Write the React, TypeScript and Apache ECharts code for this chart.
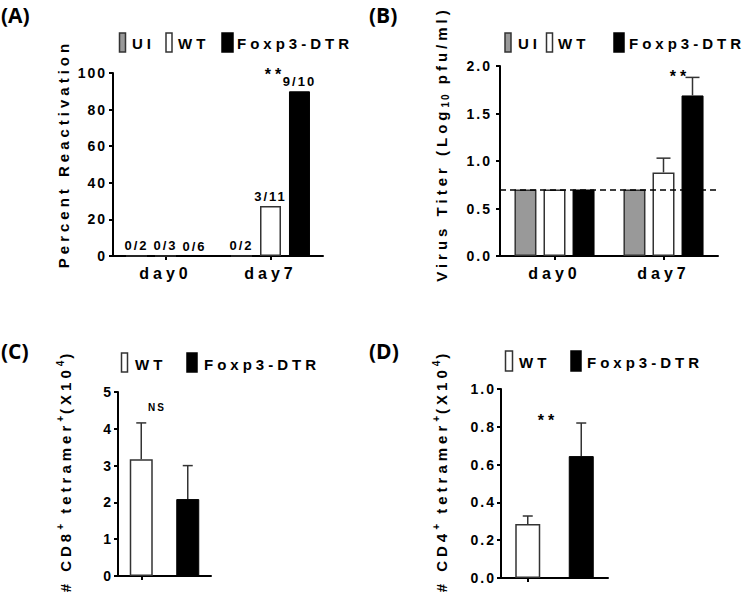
import React, { useEffect, useRef } from 'react';
import * as echarts from 'echarts';

// ---------- data ----------
const days = ['day0', 'day7'];
const groupNames = ['UI', 'WT', 'Foxp3-DTR'];
// (A) percent reactivation
const reactUI = [0, 0];
const reactWT = [0, 27.3];
const reactFox = [0, 90];
const fracUI = ['0/2', '0/2'];
const fracWT = ['0/3', '3/11'];
const fracFox = ['0/6', '9/10'];
// (B) virus titer (log10 pfu/ml)
const titerUI = [0.7, 0.7];
const titerWT = [0.7, 0.88];
const titerFox = [0.7, 1.69];
const titerErrUI = [0, 0];
const titerErrWT = [0, 0.15];
const titerErrFox = [0, 0.19];
const detectionLimit = 0.7;
// (C) CD8+ tetramer+ (x10^4)
const tetGroups = ['WT', 'Foxp3-DTR'];
const cd8Mean = [3.17, 2.09];
const cd8Err = [0.99, 0.91];
// (D) CD4+ tetramer+ (x10^4)
const cd4Mean = [0.286, 0.645];
const cd4Err = [0.042, 0.175];

// ---------- style ----------
const FONT = 'Liberation Sans';
const TFONT = 'Open Sans';
const GRAY = '#999999';
const EDGE = '#333333';

const axisLine = { show: true, lineStyle: { color: '#000', width: 2 } };
const axisTick = { show: true, length: 4, lineStyle: { color: '#000', width: 2 } };
const xTick = { show: true, alignWithLabel: true, length: 4, lineStyle: { color: '#000', width: 2 } };
const tickLabel = (margin: number, fmt?: (v: number) => string) => ({
  color: '#000', fontFamily: FONT, fontWeight: 'bold', fontSize: 14, margin,
  formatter: fmt,
});
const dayLabel = { color: '#000', fontFamily: FONT, fontWeight: 'bold', fontSize: 16, margin: 9 };

const styleUI = { color: GRAY, borderColor: EDGE, borderWidth: 1.5 };
const styleWT = { color: '#ffffff', borderColor: EDGE, borderWidth: 1.5 };
const styleFox = { color: '#000000', borderColor: '#000', borderWidth: 1 };

const errorRender = (step: number, capHalf: number) => (params: any, api: any) => {
  const cat = api.value(0);
  const v = api.value(1);
  const e = api.value(2);
  const slot = api.value(3);
  const n = api.value(4);
  if (!e) return { type: 'group', children: [] };
  const base = api.coord([cat, v]);
  const top = api.coord([cat, v + e]);
  const x = base[0] + (slot - (n - 1) / 2) * step;
  const st = { stroke: EDGE, lineWidth: 1.5 };
  return {
    type: 'group',
    children: [
      { type: 'line', shape: { x1: x, y1: base[1], x2: x, y2: top[1] }, style: st },
      { type: 'line', shape: { x1: x - capHalf, y1: top[1], x2: x + capHalf, y2: top[1] }, style: st },
    ],
  };
};

const fracLabel = (arr: string[]) => ({
  show: true, position: 'top', distance: 3, color: '#000', fontFamily: FONT, fontWeight: 'bold', fontSize: 13,
  formatter: (p: any) => arr[p.dataIndex],
});

const txt = (text: string, x: number, y: number, size: number, extra: any = {}) => ({
  type: 'text', x, y, silent: true,
  style: { text, fill: '#000', fontFamily: FONT, fontWeight: 'bold', fontSize: size, align: 'left', verticalAlign: 'middle', ...extra },
});
const swatch = (x: number, y: number, w: number, h: number, fill: string, stroke: string) => ({
  type: 'rect', silent: true, shape: { x, y, width: w, height: h }, style: { fill, stroke, lineWidth: 1.5 },
});

// rotated axis title made of pieces (normal / superscript / subscript), spacing measured
type Part = { t: string; s?: 'sup' | 'sub' };
let measureCtx: CanvasRenderingContext2D | null = null;
const measure = (t: string, size: number) => {
  if (!measureCtx) measureCtx = document.createElement('canvas').getContext('2d');
  measureCtx!.font = `bold ${size}px "${FONT}"`;
  return measureCtx!.measureText(t).width;
};
const yName = (parts: Part[], cx: number, cy: number) => {
  const items = parts.map((p) => {
    const size = p.s ? 10 : 15;
    const ls = p.s ? 2 : 4;
    const lead = p.t.length - p.t.trimStart().length;
    const body = p.t.trim();
    const spaceW = lead ? (measure(' ', size) + ls) * lead : 0;
    const w = measure(body, size) + ls * body.length;
    return { p, size, body, spaceW, w };
  });
  const total = items.reduce((a, it) => a + it.spaceW + it.w, 0);
  let pos = -total / 2;
  const children = items.map((it) => {
    pos += it.spaceW;
    const el = {
      type: 'text', x: pos, y: it.p.s === 'sup' ? -5 : it.p.s === 'sub' ? 4 : 0, silent: true,
      style: { text: it.body, fill: '#000', fontFamily: FONT, fontWeight: 'bold', fontSize: it.size, align: 'left', verticalAlign: 'middle' },
    };
    pos += it.w;
    return el;
  });
  return { type: 'group', x: cx, y: cy, rotation: Math.PI / 2, children };
};

export default function App() {
  const ref = useRef<HTMLDivElement>(null);
  useEffect(() => {
    if (!ref.current) return;
    const chart = echarts.init(ref.current, undefined, { renderer: 'svg' });
    const option: any = {
      animation: false,
      backgroundColor: '#ffffff',
      grid: [
        { left: 113, top: 73, width: 210, height: 183 },
        { left: 500, top: 66, width: 218, height: 190 },
        { left: 118, top: 392, width: 93, height: 184 },
        { left: 501, top: 389, width: 107, height: 189 },
      ],
      xAxis: [
        { gridIndex: 0, type: 'category', data: days, axisLine, axisTick: xTick, axisLabel: dayLabel },
        { gridIndex: 1, type: 'category', data: days, axisLine, axisTick: xTick, axisLabel: dayLabel },
        { gridIndex: 2, type: 'category', data: tetGroups, axisLine, axisTick: xTick, axisLabel: { show: false } },
        { gridIndex: 3, type: 'category', data: tetGroups, axisLine, axisTick: xTick, axisLabel: { show: false } },
      ],
      yAxis: [
        { gridIndex: 0, type: 'value', min: 0, max: 100, interval: 20, axisLine, axisTick, splitLine: { show: false }, axisLabel: tickLabel(6) },
        { gridIndex: 1, type: 'value', min: 0, max: 2, interval: 0.5, axisLine, axisTick, splitLine: { show: false }, axisLabel: tickLabel(8, (v) => v.toFixed(1)) },
        { gridIndex: 2, type: 'value', min: 0, max: 5, interval: 1, axisLine, axisTick, splitLine: { show: false }, axisLabel: tickLabel(5) },
        { gridIndex: 3, type: 'value', min: 0, max: 1, interval: 0.2, axisLine, axisTick, splitLine: { show: false }, axisLabel: tickLabel(5, (v) => v.toFixed(1)) },
      ],
      series: [
        // (A)
        { type: 'bar', name: groupNames[0], xAxisIndex: 0, yAxisIndex: 0, data: reactUI, barWidth: 21, barGap: '38%', itemStyle: styleUI, label: fracLabel(fracUI) },
        { type: 'bar', name: groupNames[1], xAxisIndex: 0, yAxisIndex: 0, data: reactWT, barWidth: 21, barGap: '38%', itemStyle: styleWT, label: fracLabel(fracWT) },
        { type: 'bar', name: groupNames[2], xAxisIndex: 0, yAxisIndex: 0, data: reactFox, barWidth: 21, barGap: '38%', itemStyle: styleFox, label: fracLabel(fracFox) },
        // (B)
        {
          type: 'bar', name: groupNames[0], xAxisIndex: 1, yAxisIndex: 1, data: titerUI, barWidth: 22, barGap: '32%', itemStyle: styleUI,
          markLine: { silent: true, symbol: 'none', label: { show: false }, lineStyle: { color: '#000', type: [6, 4], width: 1.5 }, data: [{ yAxis: detectionLimit }] },
        },
        { type: 'bar', name: groupNames[1], xAxisIndex: 1, yAxisIndex: 1, data: titerWT, barWidth: 22, barGap: '32%', itemStyle: styleWT },
        { type: 'bar', name: groupNames[2], xAxisIndex: 1, yAxisIndex: 1, data: titerFox, barWidth: 22, barGap: '32%', itemStyle: styleFox },
        {
          type: 'custom', xAxisIndex: 1, yAxisIndex: 1, z: 5, renderItem: errorRender(29, 7), encode: { x: 0, y: 1 },
          data: [
            ...titerUI.map((v, i) => [i, v, titerErrUI[i], 0, 3]),
            ...titerWT.map((v, i) => [i, v, titerErrWT[i], 1, 3]),
            ...titerFox.map((v, i) => [i, v, titerErrFox[i], 2, 3]),
          ],
        },
        // (C)
        {
          type: 'bar', xAxisIndex: 2, yAxisIndex: 2, barWidth: 23,
          data: cd8Mean.map((v, i) => ({ value: v, itemStyle: i === 0 ? styleWT : styleFox })),
        },
        {
          type: 'custom', xAxisIndex: 2, yAxisIndex: 2, z: 5, renderItem: errorRender(0, 5), encode: { x: 0, y: 1 },
          data: cd8Mean.map((v, i) => [i, v, cd8Err[i], 0, 1]),
        },
        // (D)
        {
          type: 'bar', xAxisIndex: 3, yAxisIndex: 3, barWidth: 25,
          data: cd4Mean.map((v, i) => ({ value: v, itemStyle: i === 0 ? styleWT : styleFox })),
        },
        {
          type: 'custom', xAxisIndex: 3, yAxisIndex: 3, z: 5, renderItem: errorRender(0, 5), encode: { x: 0, y: 1 },
          data: cd4Mean.map((v, i) => [i, v, cd4Err[i], 0, 1]),
        },
      ],
      graphic: [
        // panel titles
        txt('(A)', 1, 15, 21, { fontFamily: TFONT }),
        txt('(B)', 369, 15, 21, { fontFamily: TFONT }),
        txt('(C)', 1, 351, 21, { fontFamily: TFONT }),
        txt('(D)', 369, 351, 21, { fontFamily: TFONT }),
        // legend A
        swatch(119.5, 33, 6, 19, GRAY, EDGE), txt(groupNames[0], 132, 43, 15),
        swatch(166, 33, 6, 19, '#fff', EDGE), txt(groupNames[1], 178, 43, 15),
        swatch(222, 33, 11, 19, '#000', '#000'), txt(groupNames[2], 237, 43, 15),
        // legend B
        swatch(505, 33, 6, 19, GRAY, EDGE), txt(groupNames[0], 518, 43, 15),
        swatch(546.5, 33, 6, 19, '#fff', EDGE), txt(groupNames[1], 558, 43, 15),
        swatch(614, 33, 10, 19, '#000', '#000'), txt(groupNames[2], 629, 43, 15),
        // legend C
        swatch(121.5, 353, 6, 19, '#fff', EDGE), txt(tetGroups[0], 135, 364, 15),
        swatch(187, 353, 10, 19, '#000', '#000'), txt(tetGroups[1], 204, 364, 15),
        // legend D
        swatch(505.5, 351, 7, 20, '#fff', EDGE), txt(tetGroups[0], 519, 362, 15),
        swatch(571, 351, 10, 20, '#000', '#000'), txt(tetGroups[1], 587, 362, 15),
        // y axis names
        yName([{ t: 'Percent Reactivation' }], 63, 154),
        yName([{ t: 'Virus Titer (Log' }, { t: '10', s: 'sub' }, { t: ' pfu/ml)' }], 441, 144),
        yName([{ t: '# CD8' }, { t: '+', s: 'sup' }, { t: ' tetramer' }, { t: '+', s: 'sup' }, { t: '(X10' }, { t: '4', s: 'sup' }, { t: ')' }], 65, 471),
        yName([{ t: '# CD4' }, { t: '+', s: 'sup' }, { t: ' tetramer' }, { t: '+', s: 'sup' }, { t: '(X10' }, { t: '4', s: 'sup' }, { t: ')' }], 441, 471),
        // significance marks
        txt('**', 275, 74, 16, { align: 'center' }),
        txt('**', 680, 76, 16, { align: 'center' }),
        txt('NS', 157, 407, 10, { align: 'center' }),
        txt('**', 548, 420, 16, { align: 'center' }),
      ],
    };
    chart.setOption(option);
    return () => chart.dispose();
  }, []);
  return (
    <>
      <style>{`
        #fig text[style*="Liberation"] { letter-spacing: 2px; }
        #fig text[style*="Liberation"][style*="15px"],
        #fig text[style*="Liberation"][style*="16px"] { letter-spacing: 4px; }
      `}</style>
      <div
        id="fig"
        ref={ref}
        style={{ position: 'fixed', left: 0, top: 0, width: 753, height: 607, background: '#fff' }}
      />
    </>
  );
}
